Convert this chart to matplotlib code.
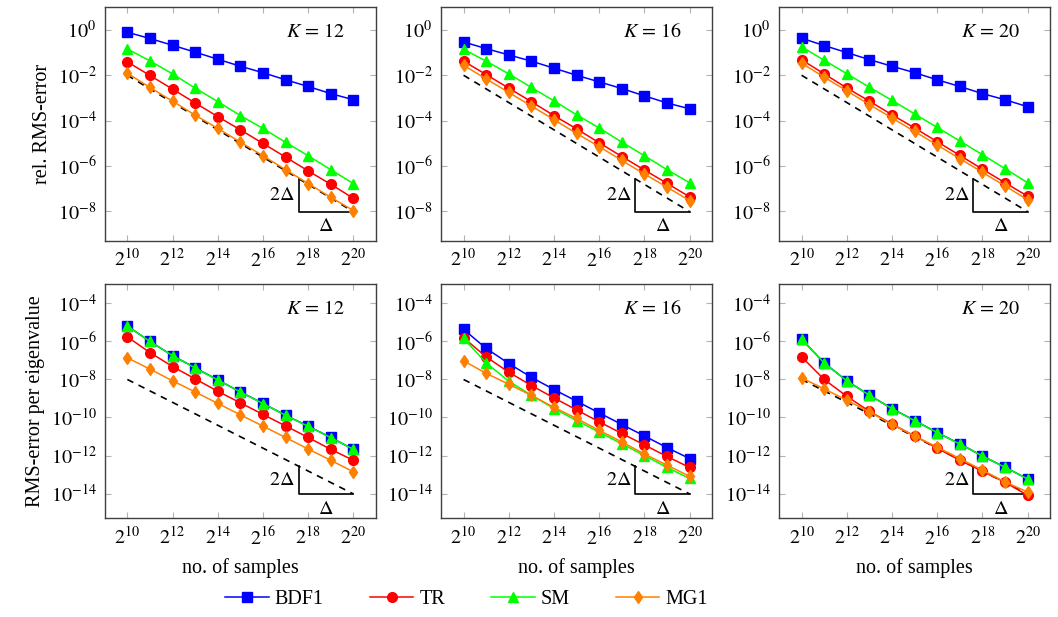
import matplotlib
matplotlib.use("Agg")
import matplotlib.pyplot as plt
import numpy as np

plt.rcParams['font.family'] = ['Liberation Serif', 'DejaVu Serif']
plt.rcParams['mathtext.fontset'] = 'stix'
plt.rcParams['font.size'] = 14.5

# ---- data ----
exponents = [10, 11, 12, 13, 14, 15, 16, 17, 18, 19, 20]
Ks = [12, 16, 20]
methods = ['BDF1', 'TR', 'SM', 'MG1']

# relative RMS error (top row)
rel_bdf1 = {
    12: [7.9e-1, 4.2e-1, 2.1e-1, 1.05e-1, 5.1e-2, 2.5e-2, 1.3e-2, 6.3e-3, 3.2e-3, 1.55e-3, 8.3e-4],
    16: [2.95e-1, 1.5e-1, 7.9e-2, 4.2e-2, 2.05e-2, 1.0e-2, 5.1e-3, 2.6e-3, 1.23e-3, 6.0e-4, 3.3e-4],
    20: [4.3e-1, 2.05e-1, 1.0e-1, 4.9e-2, 2.5e-2, 1.3e-2, 6.3e-3, 3.2e-3, 1.55e-3, 8.3e-4, 4.1e-4],
}
rel_tr = {
    12: [3.9e-2, 9.8e-3, 2.45e-3, 6.0e-4, 1.5e-4, 3.9e-5, 9.8e-6, 2.45e-6, 6.0e-7, 1.55e-7, 3.7e-8],
    16: [4.2e-2, 1.07e-2, 2.7e-3, 6.8e-4, 1.66e-4, 4.3e-5, 1.05e-5, 2.6e-6, 6.6e-7, 1.7e-7, 4.3e-8],
    20: [4.8e-2, 1.15e-2, 2.75e-3, 7.2e-4, 1.8e-4, 4.7e-5, 1.17e-5, 2.9e-6, 7.2e-7, 1.8e-7, 4.6e-8],
}
rel_sm = {
    12: [1.45e-1, 4.3e-2, 1.15e-2, 2.7e-3, 6.9e-4, 1.66e-4, 4.5e-5, 1.1e-5, 2.8e-6, 6.8e-7, 1.66e-7],
    16: [1.4e-1, 4.2e-2, 1.15e-2, 2.9e-3, 7.4e-4, 1.8e-4, 4.7e-5, 1.12e-5, 2.8e-6, 6.8e-7, 1.8e-7],
    20: [1.8e-1, 4.6e-2, 1.17e-2, 2.95e-3, 7.8e-4, 1.95e-4, 5.0e-5, 1.26e-5, 3.1e-6, 7.6e-7, 1.8e-7],
}
rel_mg1 = {
    12: [1.23e-2, 2.9e-3, 7.2e-4, 1.74e-4, 4.5e-5, 1.12e-5, 2.8e-6, 6.8e-7, 1.66e-7, 4.1e-8, 1.07e-8],
    16: [2.75e-2, 6.9e-3, 1.74e-3, 4.4e-4, 1.1e-4, 2.7e-5, 7.1e-6, 1.74e-6, 4.4e-7, 1.15e-7, 2.95e-8],
    20: [3.4e-2, 8.3e-3, 2.05e-3, 5.1e-4, 1.3e-4, 3.3e-5, 8.3e-6, 2.1e-6, 5.2e-7, 1.3e-7, 3.2e-8],
}

# RMS error per eigenvalue (bottom row)
eig_bdf1 = {
    12: [6.5e-6, 1.0e-6, 1.8e-7, 4.1e-8, 9.5e-9, 2.2e-9, 5.5e-10, 1.3e-10, 3.5e-11, 8.9e-12, 2.1e-12],
    16: [4.3e-6, 4.3e-7, 6.9e-8, 1.3e-8, 2.95e-9, 7.2e-10, 1.74e-10, 4.3e-11, 1.07e-11, 2.6e-12, 6.9e-13],
    20: [1.3e-6, 7.4e-8, 8.5e-9, 1.48e-9, 2.95e-10, 6.9e-11, 1.6e-11, 4.1e-12, 9.5e-13, 2.4e-13, 5.9e-14],
}
eig_tr = {
    12: [1.74e-6, 2.6e-7, 4.8e-8, 1.07e-8, 2.4e-9, 5.9e-10, 1.45e-10, 3.6e-11, 8.9e-12, 2.1e-12, 5.6e-13],
    16: [1.55e-6, 1.55e-7, 2.4e-8, 4.8e-9, 1.07e-9, 2.5e-10, 5.9e-11, 1.45e-11, 3.6e-12, 8.9e-13, 2.35e-13],
    20: [1.55e-7, 1.0e-8, 1.3e-9, 2.1e-10, 4.5e-11, 1.07e-11, 2.4e-12, 5.6e-13, 1.48e-13, 3.9e-14, 8.1e-15],
}
eig_sm = {
    12: [6.4e-6, 1.0e-6, 1.8e-7, 4.0e-8, 9.4e-9, 2.2e-9, 5.4e-10, 1.3e-10, 3.4e-11, 8.8e-12, 2.1e-12],
    16: [1.45e-6, 7.4e-8, 8.1e-9, 1.48e-9, 2.95e-10, 6.9e-11, 1.7e-11, 4.1e-12, 1.0e-12, 2.35e-13, 6.2e-14],
    20: [1.3e-6, 7.3e-8, 8.4e-9, 1.47e-9, 2.9e-10, 6.8e-11, 1.6e-11, 4.0e-12, 9.4e-13, 2.4e-13, 5.8e-14],
}
eig_mg1 = {
    12: [1.38e-7, 3.5e-8, 8.5e-9, 2.2e-9, 5.5e-10, 1.38e-10, 3.5e-11, 8.9e-12, 2.2e-12, 5.6e-13, 1.38e-13],
    16: [9.5e-8, 2.1e-8, 5.6e-9, 1.45e-9, 3.4e-10, 8.9e-11, 2.1e-11, 5.2e-12, 1.2e-12, 3.1e-13, 8.1e-14],
    20: [1.2e-8, 3.2e-9, 8.1e-10, 1.95e-10, 4.3e-11, 1.07e-11, 2.75e-12, 6.9e-13, 1.7e-13, 4.1e-14, 1.2e-14],
}

# reference slope lines: value at 2^10, order 2
ref_top = 1e-2
ref_bottom = 1e-8
ref_order = 2

# ---- styling ----
styles = {
    'BDF1': dict(color='#0000ff', marker='s', ms=6.5),
    'TR': dict(color='#ff0000', marker='o', ms=7),
    'SM': dict(color='#00ff00', marker='^', ms=7),
    'MG1': dict(color='#ff8000', marker='d', ms=6.5),
}

N = 2.0 ** np.array(exponents)

fig = plt.figure(figsize=(10.58, 6.17), dpi=100)
lefts = [0.099, 0.4168, 0.7363]
w = 0.2564
rows = [(0.6099, 0.3783), (0.160, 0.3797)]

top_data = [rel_bdf1, rel_tr, rel_sm, rel_mg1]
bot_data = [eig_bdf1, eig_tr, eig_sm, eig_mg1]

handles = []
for r, (bottom, h) in enumerate(rows):
    data = top_data if r == 0 else bot_data
    ref0 = ref_top if r == 0 else ref_bottom
    for c, K in enumerate(Ks):
        ax = fig.add_axes([lefts[c], bottom, w, h])
        ax.set_xscale('log', base=2)
        ax.set_yscale('log')

        # reference line
        ref = ref0 * (N / N[0]) ** (-ref_order)
        ax.plot(N, ref, color='black', ls=(0, (4, 3.5)), lw=1.2, zorder=2)

        # slope triangle
        tx0 = 2 ** 17.6
        ty0 = ref0 * (tx0 / N[0]) ** (-ref_order)
        ty1 = ref[-1]
        ax.plot([tx0, tx0, N[-1]], [ty0, ty1, ty1], color='black', lw=1.2, zorder=2)
        ax.annotate(r'$2\Delta$', xy=(tx0, np.sqrt(ty0 * ty1)), xytext=(-3, 0),
                    textcoords='offset points', ha='right', va='center', fontsize=14.5)
        ax.annotate(r'$\Delta$', xy=(np.sqrt(tx0 * N[-1]), ty1), xytext=(0, -4),
                    textcoords='offset points', ha='center', va='top', fontsize=14.5)

        for m, d in zip(methods, data):
            st = styles[m]
            ln, = ax.plot(N, d[K], color=st['color'], marker=st['marker'], ms=st['ms'],
                          lw=1.1, mec=st['color'], label=m, zorder=3)
            if r == 0 and c == 0:
                handles.append(ln)

        ax.text(0.889, 0.89, r'$K\,=\,%d$' % K, transform=ax.transAxes,
                ha='right', va='center', fontsize=14.5)

        ax.set_xlim(2 ** 9, 2 ** 21)
        if r == 0:
            ax.set_ylim(10 ** -9.3, 10 ** 1.0)
            yt = [1e0, 1e-2, 1e-4, 1e-6, 1e-8]
        else:
            ax.set_ylim(10 ** -15.3, 10 ** -2.98)
            yt = [1e-4, 1e-6, 1e-8, 1e-10, 1e-12, 1e-14]
        xt = [2.0 ** e for e in range(10, 21, 2)]
        ax.set_xticks(xt)
        ax.set_xticklabels([r'$2^{%d}$' % e for e in range(10, 21, 2)])
        ax.set_yticks(yt)
        ax.set_yticklabels([r'$10^{%d}$' % int(round(np.log10(v))) for v in yt])
        ax.minorticks_off()
        ax.tick_params(direction='in', top=True, right=True, length=4, width=0.8,
                       color='0.7', pad=6, labelsize=14.5)
        for s in ax.spines.values():
            s.set_color('0.25')
            s.set_linewidth(1.0)

        if r == 1:
            ax.set_xlabel('no. of samples', fontsize=14.5, labelpad=6)
        if c == 0:
            ax.set_ylabel('rel. RMS-error' if r == 0 else 'RMS-error per eigenvalue',
                          fontsize=14.5)

fig.legend(handles=handles, loc='center', bbox_to_anchor=(0.441, 0.028), ncol=4,
           frameon=False, handlelength=2.15, handletextpad=0.3, columnspacing=2.3,
           fontsize=14.5)

fig.savefig('out.png', dpi=100)
